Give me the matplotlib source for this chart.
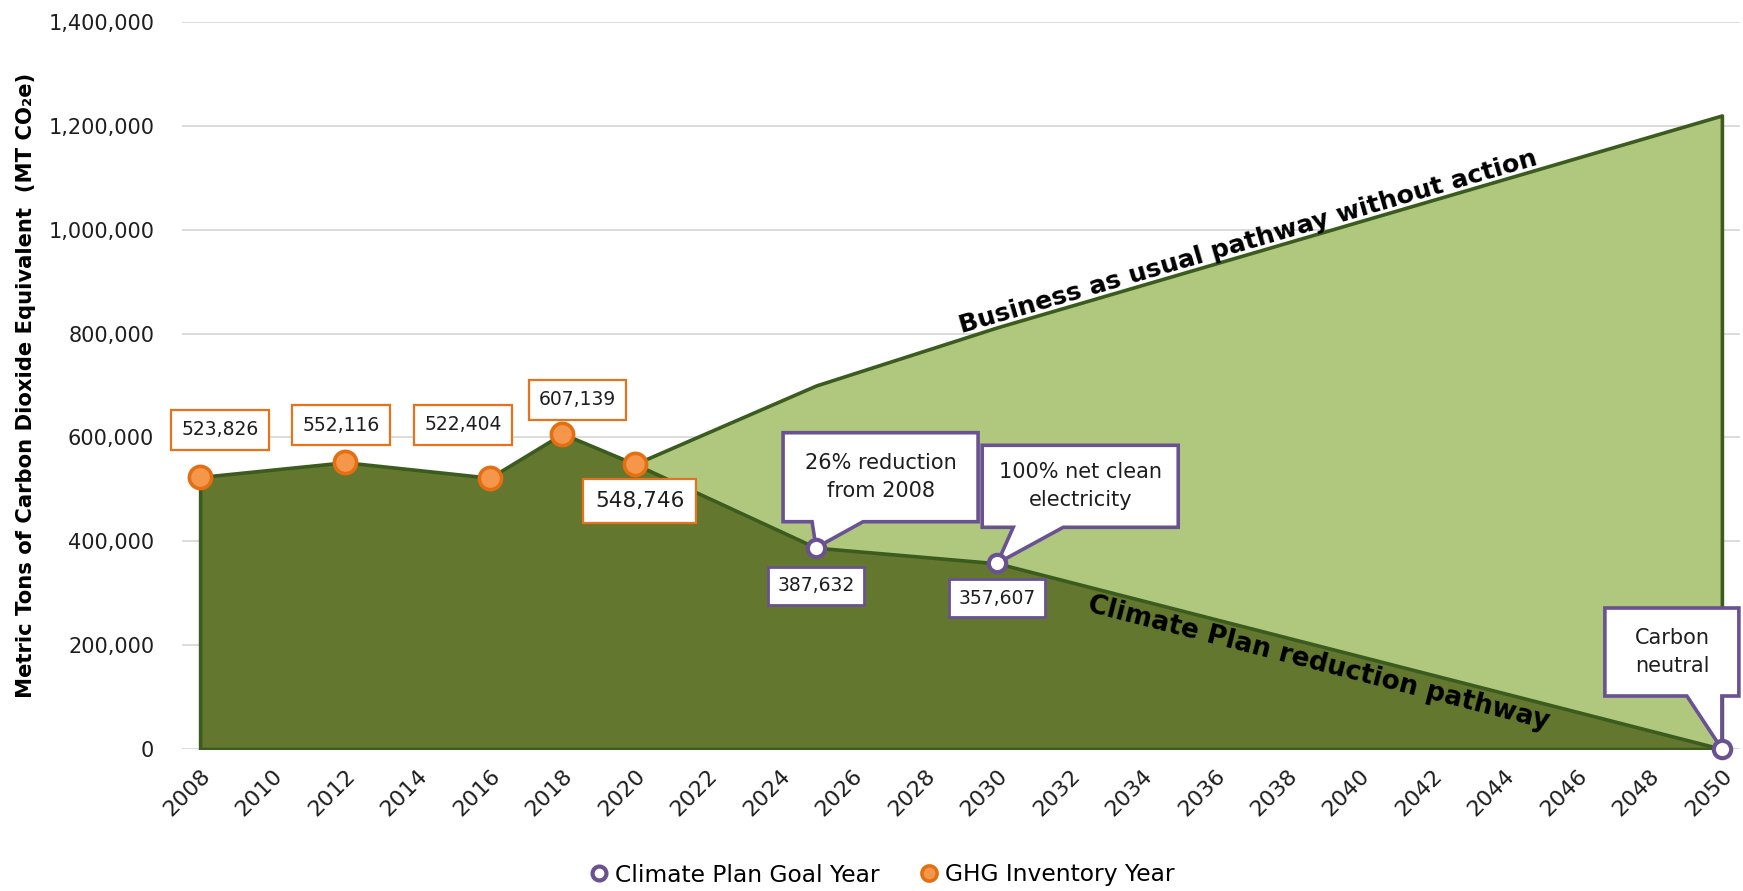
import numpy as np
import matplotlib
matplotlib.use("Agg")
import matplotlib.pyplot as plt
import matplotlib.transforms as mtransforms
from matplotlib.patches import Polygon
from matplotlib.lines import Line2D

# ---------------- data ----------------
inv_years = [2008, 2012, 2016, 2018, 2020]
inv_values = [523826, 552116, 522404, 607139, 548746]
goal_years = [2025, 2030, 2050]
goal_values = [387632, 357607, 0]
bau_years = [2020, 2025, 2030, 2050]
bau_values = [548746, 700000, 812000, 1220000]
goal_texts = ["26% reduction\nfrom 2008", "100% net clean\nelectricity", "Carbon\nneutral"]
y_ticks = [0, 200000, 400000, 600000, 800000, 1000000, 1200000, 1400000]
x_ticks = list(range(2008, 2051, 2))

plan_years = inv_years + goal_years
plan_values = inv_values + goal_values

# ---------------- style ----------------
DARK_FILL = "#63772F"
LIGHT_FILL = "#AFC87E"
OUTLINE = "#3B5B1F"
ORANGE_FILL = "#F5974B"
ORANGE_EDGE = "#E36F12"
ORANGE_BOX = "#E8721C"
PURPLE = "#6A5192"
GRID = "#D9D9D9"
TXT = "#1E1E1E"

plt.rcParams["font.family"] = ["DejaVu Sans"]

fig = plt.figure(figsize=(17.43, 8.91), dpi=100)
ax = fig.add_axes([182 / 1743, (891 - 749) / 891, 1558 / 1743, (749 - 22) / 891])

ax.set_xlim(2007.5, 2050.5)
ax.set_ylim(0, 1400000)
ax.set_yticks(y_ticks)
ax.set_yticklabels([f"{v:,}" for v in y_ticks], fontsize=15, color=TXT)
ax.set_xticks(x_ticks)
ax.set_xticklabels([str(v) for v in x_ticks], fontsize=16, color=TXT,
                   rotation=45, ha="right", va="top", rotation_mode="anchor")
ax.tick_params(axis="both", length=0)
ax.tick_params(axis="y", pad=20)
ax.tick_params(axis="x", pad=12)
for s in ax.spines.values():
    s.set_visible(False)
ax.yaxis.grid(True, color=GRID, lw=1.3)
ax.set_axisbelow(True)

# areas
ax.fill_between(bau_years, 0, bau_values, facecolor=LIGHT_FILL, edgecolor=OUTLINE,
                lw=2.6, joinstyle="round", zorder=2)
ax.fill_between(plan_years, 0, plan_values, facecolor=DARK_FILL, edgecolor=OUTLINE,
                lw=2.6, joinstyle="round", zorder=3)

# markers
ax.plot(inv_years, inv_values, ls="", marker="o", ms=16, mfc=ORANGE_FILL,
        mec=ORANGE_EDGE, mew=2.6, zorder=6, clip_on=False)
ax.plot(goal_years, goal_values, ls="", marker="o", ms=12.5, mfc="white",
        mec=PURPLE, mew=3, zorder=8, clip_on=False)

# number labels (offsets in px at 100 dpi)
PX = 0.72
inv_offsets = [(20, 47), (-4, 37), (-27, 53), (15, 34), (5, -37)]
inv_sizes = [13.5, 13.5, 13.5, 13.5, 15.5]
for x, v, (dx, dy), fs in zip(inv_years, inv_values, inv_offsets, inv_sizes):
    ax.annotate(f"{v:,}", xy=(x, v), xytext=(dx * PX, dy * PX), textcoords="offset points",
                ha="center", va="center", fontsize=fs, color=TXT, zorder=7,
                bbox=dict(boxstyle="square,pad=0.55", fc="white", ec=ORANGE_BOX, lw=1.6))

goal_offsets = [(0, -38), (0, -35)]
for x, v, (dx, dy) in zip(goal_years[:2], goal_values[:2], goal_offsets):
    ax.annotate(f"{v:,}", xy=(x, v), xytext=(dx * PX, dy * PX), textcoords="offset points",
                ha="center", va="center", fontsize=13.5, color=TXT, zorder=7,
                bbox=dict(boxstyle="square,pad=0.5", fc="white", ec=PURPLE, lw=2))

# callouts: box (x0, x1, y_bottom, y_top) and tail base (t0, t1) in px relative to point
callouts = [
    ((-33, 162, 26, 115), (-4, 47)),
    ((-15, 181, 36, 118), (16, 66)),
    ((-117, 17, 53, 141), (-35, 0)),
]
for x, v, txt, (box, tail) in zip(goal_years, goal_values, goal_texts, callouts):
    x0, x1, yb, yt = box
    t0, t1 = tail
    verts = [(x0, yb), (x0, yt), (x1, yt), (x1, yb), (t1, yb), (0, 0), (t0, yb)]
    tr = (mtransforms.Affine2D().scale(fig.dpi / 100.0)
          + mtransforms.ScaledTranslation(x, v, ax.transData))
    poly = Polygon(verts, closed=True, fc="white", ec=PURPLE, lw=2.6,
                   joinstyle="miter", transform=tr, zorder=7, clip_on=False)
    ax.add_patch(poly)
    ax.annotate(txt, xy=(x, v), xytext=((x0 + x1) / 2 * PX, (yb + yt) / 2 * PX),
                textcoords="offset points", ha="center", va="center", fontsize=15,
                color=TXT, linespacing=1.5, zorder=9, annotation_clip=False)


# pathway labels
def seg_angle(xa, ya, xb, yb):
    p0 = ax.transData.transform((xa, ya))
    p1 = ax.transData.transform((xb, yb))
    return np.degrees(np.arctan2(p1[1] - p0[1], p1[0] - p0[0]))


ang_bau = seg_angle(bau_years[-2], bau_values[-2], bau_years[-1], bau_values[-1])
xb = 2037.0
yb_ = np.interp(xb, bau_years, bau_values)
th = np.radians(ang_bau)
off = 3
ax.annotate("Business as usual pathway without action", xy=(xb, yb_),
            xytext=(-np.sin(th) * off, np.cos(th) * off), textcoords="offset points",
            rotation=ang_bau, rotation_mode="anchor", ha="center", va="baseline",
            fontsize=18.3, fontweight="bold", color="black", zorder=9)

ang_cp = seg_angle(goal_years[1], goal_values[1], goal_years[2], goal_values[2])
xc = 2039.0
yc = np.interp(xc, plan_years, plan_values)
th = np.radians(ang_cp)
off = -3
ax.annotate("Climate Plan reduction pathway", xy=(xc, yc),
            xytext=(-np.sin(th) * off, np.cos(th) * off), textcoords="offset points",
            rotation=ang_cp, rotation_mode="anchor", ha="center", va="top",
            fontsize=19, fontweight="bold", color="black", zorder=9)

# y label
fig.text(26 / 1743, 1 - 385 / 891, "Metric Tons of Carbon Dioxide Equivalent  (MT CO₂e)",
         rotation=90, ha="center", va="center", fontsize=15.2, fontweight="bold", color="black")

# legend
handles = [
    Line2D([], [], ls="", marker="o", ms=10, mfc="white", mec=PURPLE, mew=3),
    Line2D([], [], ls="", marker="o", ms=11, mfc=ORANGE_FILL, mec=ORANGE_EDGE, mew=2.5),
]
fig.legend(handles, ["Climate Plan Goal Year", "GHG Inventory Year"], loc="center",
           bbox_to_anchor=(881 / 1743, 1 - 875 / 891), ncol=2, frameon=False,
           fontsize=16.8, handletextpad=0.2, columnspacing=1.6, handlelength=1.0)

fig.savefig("out.png", dpi=100)
